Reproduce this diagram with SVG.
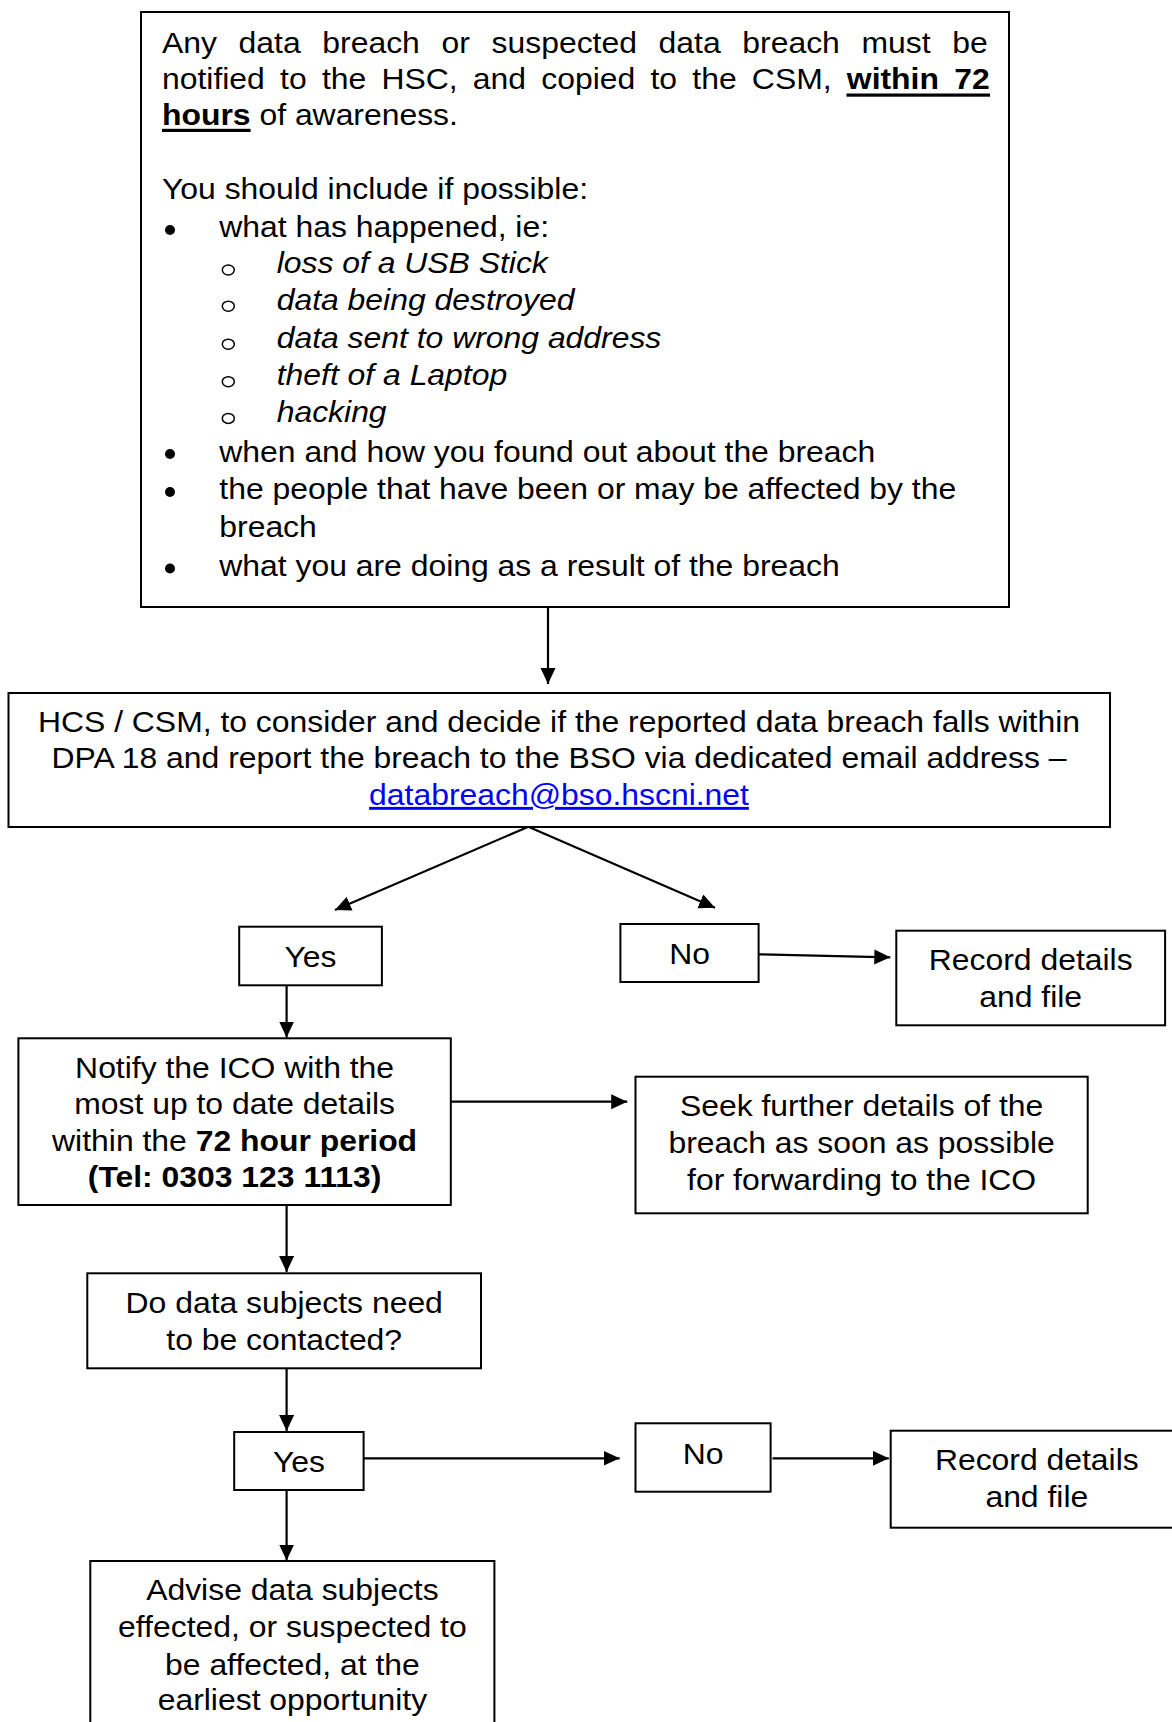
<svg xmlns="http://www.w3.org/2000/svg" width="1172" height="1722" viewBox="0 0 1172 1722">
<style>
.t{font-family:"Liberation Sans",Arial,sans-serif;font-size:29px;fill:#000}
.b{font-weight:bold}
.i{font-style:italic}
.box{fill:#fff;stroke:#000;stroke-width:2}
.conn line{stroke:#000;stroke-width:2.2;fill:none;marker-end:url(#ah)}
.ul{fill:#000}
.dot{fill:#000}
.ring{fill:none;stroke:#000;stroke-width:1.5}
.link{fill:#0000ff;text-decoration:underline}
</style>
<defs>
<marker id="ah" markerUnits="userSpaceOnUse" markerWidth="17" markerHeight="16" refX="16" refY="7.5" orient="auto">
<path d="M0,0 L16,7.5 L0,15 Z" fill="#000"/>
</marker>
</defs>
<rect width="1172" height="1722" fill="#fff"/>

<g id="conn" class="conn">
<line x1="548" y1="607" x2="548" y2="684"/>
<line x1="528.3" y1="826.7" x2="335" y2="910"/>
<line x1="528.3" y1="826.7" x2="715" y2="907.7"/>
<line x1="286.6" y1="985.3" x2="286.6" y2="1037.5"/>
<line x1="758.6" y1="954.3" x2="890.3" y2="957.3"/>
<line x1="451" y1="1101.7" x2="627.2" y2="1101.7"/>
<line x1="286.6" y1="1205" x2="286.6" y2="1272"/>
<line x1="286.6" y1="1368.3" x2="286.6" y2="1431"/>
<line x1="363.6" y1="1458.3" x2="619.6" y2="1458.3"/>
<line x1="772.5" y1="1458.3" x2="888.8" y2="1458.3"/>
<line x1="286.6" y1="1490" x2="286.6" y2="1560.5"/>
</g>

<g id="notice">
<rect class="box" x="141" y="12" width="868" height="595"/>
<text class="t" transform="translate(162,53) scale(1.1,1)" style="word-spacing:11.66px">Any data breach or suspected data breach must be</text>
<text class="t" transform="translate(162,89.3) scale(1.1,1)" style="word-spacing:5.8px">notified to the HSC, and copied to the CSM, <tspan class="b">within 72</tspan></text>
<rect class="ul" x="846.5" y="93.5" width="143.5" height="3.2"/>
<text class="t" transform="translate(162,125) scale(1.1,1)"><tspan class="b">hours</tspan> of awareness.</text>
<rect class="ul" x="162" y="128.8" width="88.6" height="3.2"/>
<text class="t" transform="translate(162,199) scale(1.1,1)">You should include if possible:</text>
<circle class="dot" cx="170" cy="230" r="5"/>
<text class="t" transform="translate(219.3,237.3) scale(1.1,1)">what has happened, ie:</text>
<ellipse class="ring" cx="228.3" cy="270" rx="6" ry="5"/>
<text class="t i" transform="translate(276.7,273.3) scale(1.1,1)">loss of a USB Stick</text>
<ellipse class="ring" cx="228.3" cy="306.2" rx="6" ry="5"/>
<text class="t i" transform="translate(276.7,309.5) scale(1.1,1)">data being destroyed</text>
<ellipse class="ring" cx="228.3" cy="344.2" rx="6" ry="5"/>
<text class="t i" transform="translate(276.7,347.5) scale(1.1,1)">data sent to wrong address</text>
<ellipse class="ring" cx="228.3" cy="381.7" rx="6" ry="5"/>
<text class="t i" transform="translate(276.7,385) scale(1.1,1)">theft of a Laptop</text>
<ellipse class="ring" cx="228.3" cy="418.4" rx="6" ry="5"/>
<text class="t i" transform="translate(276.7,421.7) scale(1.1,1)">hacking</text>
<circle class="dot" cx="170" cy="454" r="5"/>
<text class="t" transform="translate(219.3,461.7) scale(1.1,1)">when and how you found out about the breach</text>
<circle class="dot" cx="170" cy="492" r="5"/>
<text class="t" transform="translate(219.3,499.3) scale(1.1,1)">the people that have been or may be affected by the</text>
<text class="t" transform="translate(219.3,536.7) scale(1.1,1)">breach</text>
<circle class="dot" cx="170" cy="568.5" r="5"/>
<text class="t" transform="translate(219.3,576) scale(1.1,1)">what you are doing as a result of the breach</text>
</g>

<g id="consider">
<rect class="box" x="8.5" y="693" width="1101.5" height="134"/>
<text class="t" text-anchor="middle" transform="translate(559,731.7) scale(1.1,1)">HCS / CSM, to consider and decide if the reported data breach falls within<tspan x="0" dy="36.6">DPA 18 and report the breach to the BSO via dedicated email address –</tspan><tspan x="0" dy="36.7" class="link">databreach@bso.hscni.net</tspan></text>
</g>

<g id="yes1">
<rect class="box" x="239.2" y="926.7" width="142.7" height="58.6"/>
<text class="t" text-anchor="middle" transform="translate(310.5,966.7) scale(1.1,1)">Yes</text>
</g>

<g id="no1">
<rect class="box" x="620.4" y="924" width="138.2" height="58"/>
<text class="t" text-anchor="middle" transform="translate(689.5,964) scale(1.1,1)">No</text>
</g>

<g id="record1">
<rect class="box" x="896.3" y="930.7" width="268.8" height="94.6"/>
<text class="t" text-anchor="middle" transform="translate(1030.7,970) scale(1.1,1)">Record details<tspan x="0" dy="36.7">and file</tspan></text>
</g>

<g id="notify">
<rect class="box" x="18.4" y="1038.3" width="432.4" height="166.7"/>
<text class="t" text-anchor="middle" transform="translate(234.6,1078.3) scale(1.1,1)">Notify the ICO with the<tspan x="0" dy="35.7">most up to date details</tspan><tspan x="0" dy="36.7">within the <tspan class="b">72 hour period</tspan></tspan><tspan x="0" dy="36" class="b">(Tel: 0303 123 1113)</tspan></text>
</g>

<g id="seek">
<rect class="box" x="635.5" y="1076.7" width="452.2" height="136.6"/>
<text class="t" text-anchor="middle" transform="translate(861.6,1116) scale(1.1,1)">Seek further details of the<tspan x="0" dy="37.3">breach as soon as possible</tspan><tspan x="0" dy="36.7">for forwarding to the ICO</tspan></text>
</g>

<g id="contact">
<rect class="box" x="87.3" y="1273.3" width="393.7" height="95"/>
<text class="t" text-anchor="middle" transform="translate(284.2,1313.3) scale(1.1,1)">Do data subjects need<tspan x="0" dy="36.7">to be contacted?</tspan></text>
</g>

<g id="yes2">
<rect class="box" x="234.2" y="1432" width="129.4" height="58"/>
<text class="t" text-anchor="middle" transform="translate(298.9,1471.7) scale(1.1,1)">Yes</text>
</g>

<g id="no2">
<rect class="box" x="635.5" y="1423.3" width="135.1" height="68.4"/>
<text class="t" text-anchor="middle" transform="translate(703,1464) scale(1.1,1)">No</text>
</g>

<g id="record2">
<rect class="box" x="890.7" y="1430.7" width="292.3" height="97"/>
<text class="t" text-anchor="middle" transform="translate(1036.8,1470) scale(1.1,1)">Record details<tspan x="0" dy="36.7">and file</tspan></text>
</g>

<g id="advise">
<rect class="box" x="90.3" y="1561" width="404.1" height="200"/>
<text class="t" text-anchor="middle" transform="translate(292.4,1600) scale(1.1,1)">Advise data subjects<tspan x="0" dy="37.3">effected, or suspected to</tspan><tspan x="0" dy="37.7">be affected, at the</tspan><tspan x="0" dy="35">earliest opportunity</tspan></text>
</g>
</svg>
